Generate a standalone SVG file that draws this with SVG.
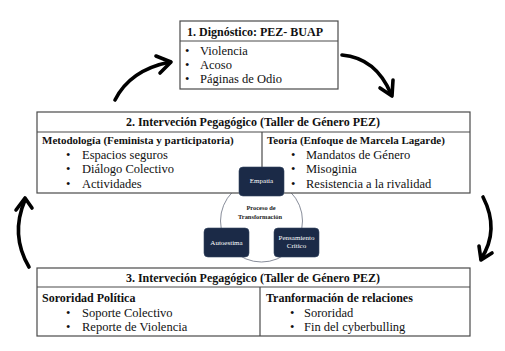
<svg xmlns="http://www.w3.org/2000/svg" width="505" height="351" viewBox="0 0 505 351">
<style>
.box{fill:#fff;stroke:#4a4a4a;stroke-width:1.2}
.ln{stroke:#4a4a4a;stroke-width:1.2}
.t{font-family:"Liberation Serif","Times New Roman",serif;fill:#111}
.h{font-weight:bold;font-size:12px}
.s{font-weight:bold;font-size:11px}
.b{font-size:12.5px}
.arr{fill:none;stroke:#000;stroke-width:3.6;stroke-linecap:round;stroke-linejoin:round}
.nv{fill:#1b2a47;stroke:#33445f;stroke-width:0.6}
.nt{font-family:"Liberation Serif","Times New Roman",serif;font-size:7px;fill:#fff;text-anchor:middle}
.ct{font-family:"Liberation Serif","Times New Roman",serif;font-size:6.4px;font-weight:bold;fill:#222;text-anchor:middle}
</style>
<rect width="505" height="351" fill="#fff"/>
<g id="connectors">
<path class="arr" d="M115,100 Q130,70 170,62"/>
<path class="arr" d="M156,56 L171,62 L160,73"/>
<path class="arr" d="M342,55 Q376,58 391,94"/>
<path class="arr" d="M380,88 L392,96 L393,80"/>
<path class="arr" d="M483,197 Q500,230 481,259"/>
<path class="arr" d="M479,246 L481,260 L492,253"/>
<path class="arr" d="M29,267 Q10,235 25,200"/>
<path class="arr" d="M16,210 L25,198 L32,208"/>
<circle cx="261.5" cy="221" r="41" fill="none" stroke="#6a7080" stroke-width="0.8"/>
</g>
<g id="n1">
<rect class="box" x="180" y="21" width="158" height="68"/>
<line class="ln" x1="180" y1="41" x2="338" y2="41"/>
<text class="t h" x="255" y="36" text-anchor="middle">1. Dignóstico: PEZ- BUAP</text>
<text class="t b" x="185" y="55">•</text><text class="t b" x="200" y="55">Violencia</text>
<text class="t b" x="185" y="69">•</text><text class="t b" x="200" y="69">Acoso</text>
<text class="t b" x="185" y="83">•</text><text class="t b" x="200" y="83">Páginas de Odio</text>
</g>
<g id="n2">
<rect class="box" x="37" y="112" width="433" height="81"/>
<line class="ln" x1="37" y1="132" x2="470" y2="132"/>
<line class="ln" x1="262" y1="132" x2="262" y2="193"/>
<text class="t h" x="253" y="126" text-anchor="middle">2. Interveción Pegagógico (Taller de Género PEZ)</text>
<text class="t s" x="42" y="144">Metodología (Feminista y participatoria)</text>
<text class="t b" x="66" y="159">•</text><text class="t b" x="82" y="159">Espacios seguros</text>
<text class="t b" x="66" y="173">•</text><text class="t b" x="82" y="173">Diálogo Colectivo</text>
<text class="t b" x="66" y="188">•</text><text class="t b" x="82" y="188">Actividades</text>
<text class="t s" x="267" y="144">Teoría (Enfoque de Marcela Lagarde)</text>
<text class="t b" x="291" y="159">•</text><text class="t b" x="306" y="159">Mandatos de Género</text>
<text class="t b" x="291" y="173">•</text><text class="t b" x="306" y="173">Misoginia</text>
<text class="t b" x="291" y="188">•</text><text class="t b" x="306" y="188">Resistencia a la rivalidad</text>
</g>
<g id="n3">
<rect class="box" x="37" y="268" width="433" height="68"/>
<line class="ln" x1="37" y1="287" x2="470" y2="287"/>
<line class="ln" x1="260" y1="287" x2="260" y2="336"/>
<text class="t h" x="253" y="282" text-anchor="middle">3. Interveción Pegagógico (Taller de Género PEZ)</text>
<text class="t h" x="42" y="302">Sororidad Política</text>
<text class="t b" x="66" y="317">•</text><text class="t b" x="82" y="317">Soporte Colectivo</text>
<text class="t b" x="66" y="331">•</text><text class="t b" x="82" y="331">Reporte de Violencia</text>
<text class="t h" x="266" y="302">Tranformación de relaciones</text>
<text class="t b" x="290" y="317">•</text><text class="t b" x="304" y="317">Sororidad</text>
<text class="t b" x="290" y="331">•</text><text class="t b" x="304" y="331">Fin del cyberbulling</text>
</g>
<g id="center">
<text class="ct" x="261" y="210">Proceso de</text>
<text class="ct" x="260" y="218.5">Transformación</text>
</g>
<g id="empatia">
<rect class="nv" x="239" y="167" width="45" height="29" rx="4"/>
<text class="nt" x="261.5" y="183">Empatía</text>
</g>
<g id="autoestima">
<rect class="nv" x="204" y="228" width="45" height="29" rx="4"/>
<text class="nt" x="226.5" y="245">Autoestima</text>
</g>
<g id="pensamiento">
<rect class="nv" x="274" y="228" width="45" height="29" rx="4"/>
<text class="nt" x="296.5" y="240">Pensamiento</text>
<text class="nt" x="296.5" y="247.5">Crítico</text>
</g>
</svg>
